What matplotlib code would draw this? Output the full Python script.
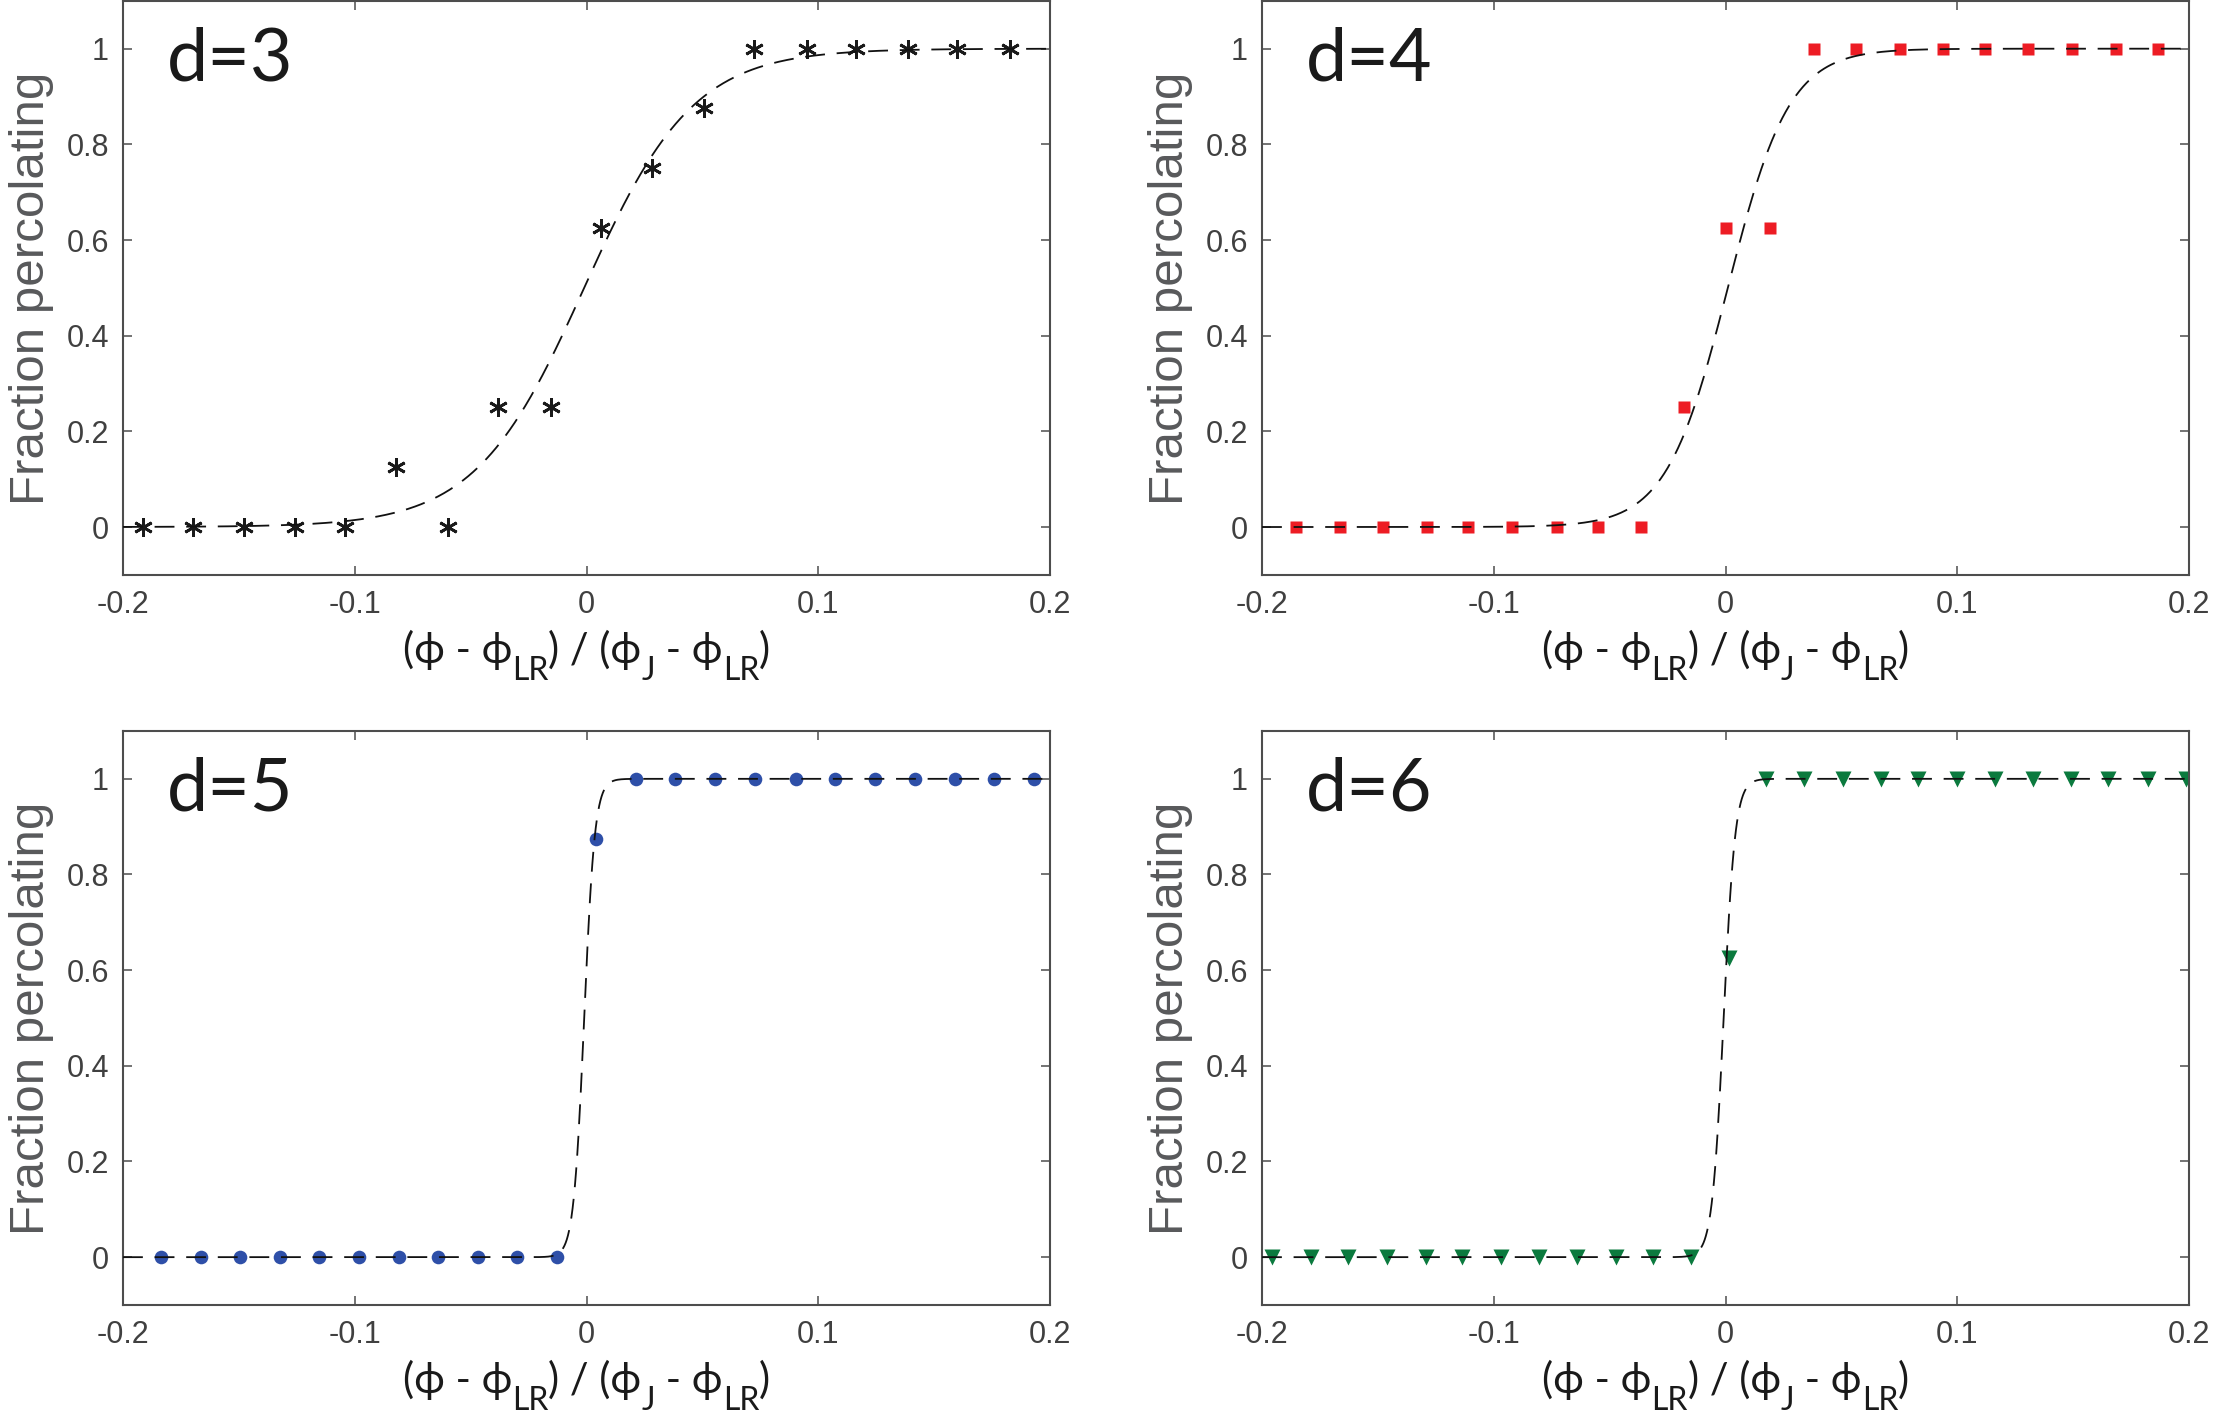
import numpy as np
import matplotlib
matplotlib.use("Agg")
import matplotlib.pyplot as plt
from matplotlib.transforms import IdentityTransform

plt.rcParams['axes.unicode_minus'] = False

# ---------------- data ----------------
x_d3 = [-0.1915, -0.1697, -0.148, -0.1259, -0.1041, -0.082, -0.0599, -0.0381, -0.0154,
        0.0064, 0.0281, 0.0505, 0.0723, 0.095, 0.1162, 0.1389, 0.160, 0.1828]
y_d3 = [0, 0, 0, 0, 0, 0.125, 0, 0.25, 0.25, 0.625, 0.75, 0.875, 1, 1, 1, 1, 1, 1]

x_d4 = [-0.1853, -0.1663, -0.1476, -0.129, -0.1109, -0.0922, -0.0729, -0.0551, -0.0365,
        -0.0178, 0.0, 0.0193, 0.0383, 0.0564, 0.0753, 0.0937, 0.1118, 0.1305, 0.1495,
        0.1685, 0.1865]
y_d4 = [0, 0, 0, 0, 0, 0, 0, 0, 0, 0.25, 0.625, 0.625, 1, 1, 1, 1, 1, 1, 1, 1, 1]

x_d5 = [-0.1837, -0.1664, -0.1495, -0.1322, -0.1153, -0.0983, -0.0811, -0.0641, -0.0469,
        -0.030, -0.0127, 0.0042, 0.0212, 0.0384, 0.0554, 0.0726, 0.0902, 0.1074, 0.1247,
        0.1416, 0.1589, 0.1758, 0.1931]
y_d5 = [0, 0, 0, 0, 0, 0, 0, 0, 0, 0, 0, 0.875, 1, 1, 1, 1, 1, 1, 1, 1, 1, 1, 1]

x_d6 = [-0.1955, -0.179, -0.1628, -0.146, -0.1294, -0.1135, -0.097, -0.0805, -0.064,
        -0.0474, -0.0312, -0.0147, 0.0015, 0.0174, 0.034, 0.0505, 0.067, 0.0832, 0.100,
        0.1163, 0.1328, 0.149, 0.1652, 0.1821, 0.1986]
y_d6 = [0, 0, 0, 0, 0, 0, 0, 0, 0, 0, 0, 0, 0.625, 1, 1, 1, 1, 1, 1, 1, 1, 1, 1, 1, 1]

# fitted sigmoid parameters (centre, width) for the dashed fit curves
fit_center = [-0.001, 0.001, -0.001, -0.0008]
fit_width = [0.047, 0.0265, 0.0046, 0.0050]

panel_labels = ["d=3", "d=4", "d=5", "d=6"]
xtick_vals = [-0.2, -0.1, 0, 0.1, 0.2]
xtick_labels = ["-0.2", "-0.1", "0", "0.1", "0.2"]
ytick_vals = [0, 0.2, 0.4, 0.6, 0.8, 1]
ytick_labels = ["0", "0.2", "0.4", "0.6", "0.8", "1"]
ylabel_text = "Fraction percolating"
# x label pieces: (text, is_subscript)
xlabel_pieces = [("(ϕ - ϕ", False), ("LR", True), (") / (ϕ", False), ("J", True),
                 (" - ϕ", False), ("LR", True), (")", False)]

# ---------------- style ----------------
W, H = 2214, 1424
fig = plt.figure(figsize=(W / 100, H / 100), dpi=100)
renderer = fig.canvas.get_renderer()

axw = 927 / W
axh = 574 / H
lefts = [123 / W, 1262 / W]
bottoms = [1 - 574 / H - 0.0006, 1 - 1305 / H]

spine_col = "#4d4d4d"
tick_col = "#404040"
ylab_col = "#58595b"
tick_font = ["Liberation Sans", "DejaVu Sans"]
title_font = ["Lato", "DejaVu Sans"]

series = [
    dict(x=x_d3, y=y_d3, marker=(6, 2, 0), ms=13.5, color="#1a1a1a", mew=2.0, filled=False),
    dict(x=x_d4, y=y_d4, marker="s", ms=8.8, color="#ed1c24", mew=0, filled=True),
    dict(x=x_d5, y=y_d5, marker="o", ms=9.8, color="#2e4fa8", mew=0, filled=True),
    dict(x=x_d6, y=y_d6, marker="v", ms=11, color="#0b7a3e", mew=0, filled=True),
]

main_fs = 30
sub_fs = 23
sub_drop_px = 17
label_baseline_below = 88   # pixels below the axes bottom


def draw_xlabel(ax):
    bb = ax.get_position()
    cx = (bb.x0 + bb.x1) / 2 * W
    base = bb.y0 * H - label_baseline_below
    texts = []
    widths = []
    for txt, sub in xlabel_pieces:
        t = fig.text(0, 0, txt, transform=IdentityTransform(),
                     fontsize=sub_fs if sub else main_fs, family=title_font,
                     color="#1a1a1a", ha="left", va="baseline")
        w = t.get_window_extent(renderer).width
        texts.append((t, sub))
        widths.append(w)
    total = sum(widths)
    x = cx - total / 2
    for (t, sub), w in zip(texts, widths):
        t.set_position((x, base - (sub_drop_px if sub else 0)))
        x += w


xx = np.linspace(-0.2, 0.2, 801)

for k in range(4):
    r, c = divmod(k, 2)
    ax = fig.add_axes([lefts[c], bottoms[r], axw, axh])
    s = series[k]
    if s["filled"]:
        ax.plot(s["x"], s["y"], linestyle="none", marker=s["marker"], ms=s["ms"],
                color=s["color"], mec="none", zorder=2)
    else:
        ax.plot(s["x"], s["y"], linestyle="none", marker=s["marker"], ms=s["ms"],
                color=s["color"], mew=s["mew"], zorder=2)
    yy = 0.5 * (1 + np.tanh((xx - fit_center[k]) / fit_width[k]))
    ax.plot(xx, yy, color="#111111", lw=1.3, linestyle=(0, (11, 6.5)), zorder=3)

    ax.set_xlim(-0.2, 0.2)
    ax.set_ylim(-0.1, 1.1)
    ax.set_xticks(xtick_vals)
    ax.set_xticklabels(xtick_labels)
    ax.set_yticks(ytick_vals)
    ax.set_yticklabels(ytick_labels)
    ax.tick_params(direction="in", top=True, right=True, length=6.5, width=1.1,
                   color=spine_col, labelcolor=tick_col, labelsize=22)
    ax.tick_params(axis="x", pad=11)
    ax.tick_params(axis="y", pad=10)
    for lab in ax.get_xticklabels() + ax.get_yticklabels():
        lab.set_family(tick_font)
    for sp in ax.spines.values():
        sp.set_color(spine_col)
        sp.set_linewidth(1.5)

    ax.set_ylabel(ylabel_text, fontsize=35.5, color=ylab_col, family=tick_font)
    ax.yaxis.set_label_coords(-0.074, 0.5)
    draw_xlabel(ax)

    ax.text(0.0475, 0.862, panel_labels[k], transform=ax.transAxes, fontsize=53,
            family=title_font, color="#1a1a1a", ha="left", va="baseline")

fig.savefig("out.png", dpi=100, facecolor="white")
